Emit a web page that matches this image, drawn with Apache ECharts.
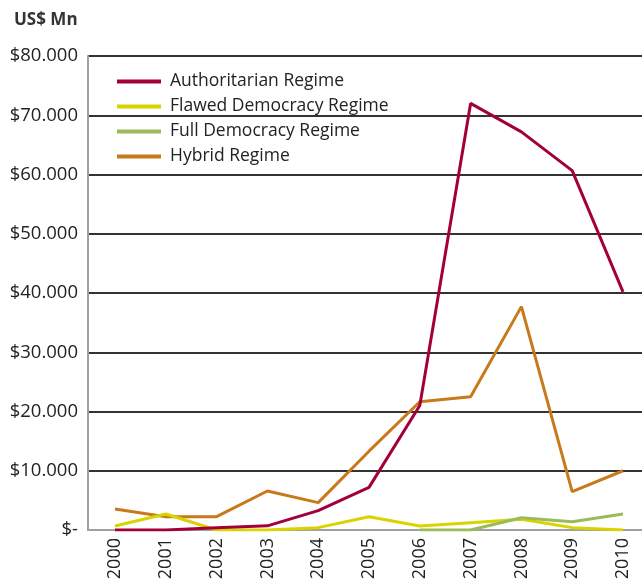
<!DOCTYPE html>
<html><head><meta charset="utf-8">
<script src="https://cdn.jsdelivr.net/npm/echarts@6/dist/echarts.min.js"></script>
<style>html,body{margin:0;padding:0;background:#fff}#c{width:642px;height:585px}</style>
</head><body><div id="c"></div>
<script>
const years = ['2000','2001','2002','2003','2004','2005','2006','2007','2008','2009','2010'];
const authoritarian = [0, 0, 400, 700, 3260, 7200, 21000, 72000, 67200, 60650, 40200];
const flawed = [680, 2700, 0, 0, 400, 2250, 680, 1240, 1800, 400, 0];
const full = [null, null, null, null, null, null, 0, 0, 2080, 1400, 2700];
const hybrid = [3550, 2250, 2250, 6580, 4620, 13300, 21650, 22500, 37700, 6470, 10000];
const yTicks = [0, 10000, 20000, 30000, 40000, 50000, 60000, 70000, 80000];

const FONT = '"Open Sans", "Liberation Sans", sans-serif';
const chart = echarts.init(document.getElementById('c'));
const mk = (name, data, color) => ({
  name, type: 'line', data, xAxisIndex: 1, yAxisIndex: 1,
  symbol: 'none', connectNulls: false,
  lineStyle: { color, width: 3 }, itemStyle: { color }
});
chart.setOption({
  animation: false,
  title: { text: 'US$ Mn', left: 9, top: 7, textStyle: { fontFamily: FONT, fontWeight: 'bold', fontSize: 17, color: '#333' } },
  grid: [
    { left: 88, right: 0, top: 56, bottom: 55 },
    { left: 115, right: 19, top: 56, bottom: 55 }
  ],
  xAxis: [
    { gridIndex: 0, type: 'value', min: 0, max: 1, show: true,
      axisLine: { show: true, lineStyle: { color: '#a0a0a0', width: 2 } },
      axisTick: { show: false }, axisLabel: { show: false }, splitLine: { show: false } },
    { gridIndex: 1, type: 'category', data: years, boundaryGap: false,
      axisLine: { show: false }, axisTick: { show: false },
      axisLabel: { rotate: 90, margin: 8, fontFamily: FONT, fontSize: 18, color: '#222' } }
  ],
  yAxis: [
    { gridIndex: 0, type: 'value', min: 0, max: 80000, interval: 10000,
      axisLine: { show: true, lineStyle: { color: '#a0a0a0', width: 2 } },
      axisTick: { show: false },
      splitLine: { show: true, lineStyle: { color: '#333', width: 2 } },
      axisLabel: { margin: 10, fontFamily: FONT, fontSize: 18.5, color: '#222',
        formatter: v => v === 0 ? '$-' : '$' + (v / 1000) + '.000' } },
    { gridIndex: 1, type: 'value', min: 0, max: 80000, interval: 10000, show: false,
      splitLine: { show: false } }
  ],
  legend: {
    orient: 'vertical', left: 112, top: 66, itemWidth: 44, itemHeight: 4, itemGap: 4,
    icon: 'rect',
    textStyle: { fontFamily: FONT, fontSize: 17.5, color: '#222', lineHeight: 21, padding: [0, 0, 0, 4] },
    data: ['Authoritarian Regime', 'Flawed Democracy Regime', 'Full Democracy Regime', 'Hybrid Regime']
  },
  series: [
    mk('Hybrid Regime', hybrid, '#C8791A'),
    mk('Flawed Democracy Regime', flawed, '#D9D300'),
    mk('Full Democracy Regime', full, '#9BBB59'),
    mk('Authoritarian Regime', authoritarian, '#A3003A')
  ]
});
</script></body></html>
